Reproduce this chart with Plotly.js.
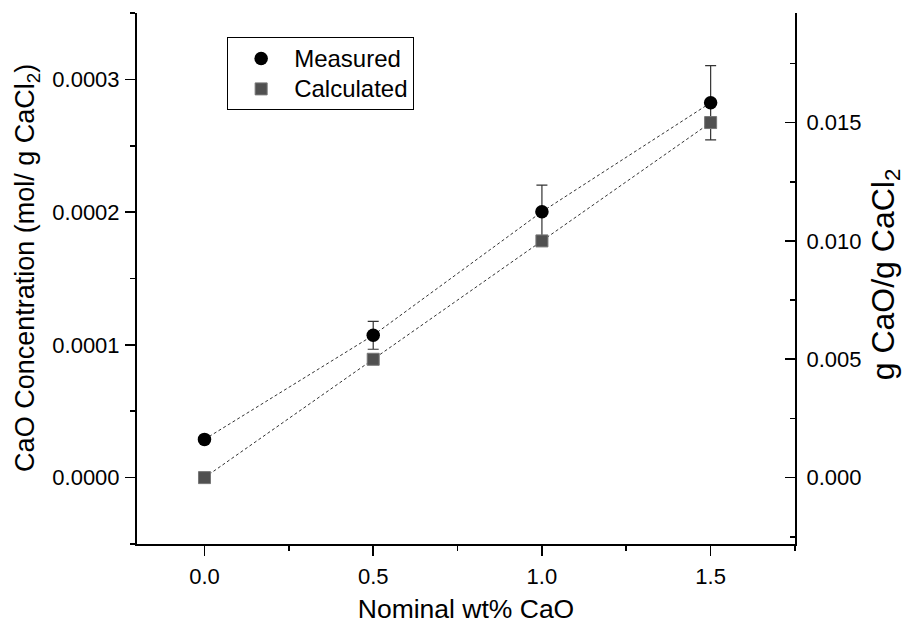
<!DOCTYPE html>
<html>
<head>
<meta charset="utf-8">
<script src="https://cdn.plot.ly/plotly-3.0.1.min.js"></script>
<style>html,body{margin:0;padding:0;background:#fff;}#chart{width:918px;height:624px;}</style>
</head>
<body>
<div id="chart"></div>
<script>
// Data
var nominal = [0.0, 0.5, 1.0, 1.5];                       // Nominal wt% CaO
var measured = [0.0000288, 0.0001072, 0.0002003, 0.0002824]; // mol CaO / g CaCl2
var measuredErr = [0.0, 0.0000105, 0.00002, 0.000028];
var calculated = [0.0, 0.005, 0.010, 0.015];               // g CaO / g CaCl2
var seriesNames = ['Measured', 'Calculated'];
var xTickVals = [0, 0.5, 1.0, 1.5];
var xTitle = 'Nominal wt% CaO';
var yTitle = 'CaO Concentration (mol/ g CaCl<sub>2</sub>)';
var y2Title = 'g CaO/g CaCl<sub>2</sub>';
var molarMassCaO = 56.08;
var leftRange = [-0.00005, 0.00035];

var FONT = 'Liberation Sans, Arial, sans-serif';

var traces = [
  { x: nominal, y: measured, type: 'scatter', mode: 'lines', yaxis: 'y',
    line: {color: '#333333', width: 1, dash: '3px,2.5px'}, showlegend: false, hoverinfo: 'skip' },
  { x: nominal, y: calculated, type: 'scatter', mode: 'lines', yaxis: 'y2',
    line: {color: '#333333', width: 1, dash: '3px,2.5px'}, showlegend: false, hoverinfo: 'skip' },
  { x: nominal, y: measured, type: 'scatter', mode: 'markers', yaxis: 'y',
    name: '<span style="font-size:24px">' + seriesNames[0] + '</span>',
    marker: {symbol: 'circle', size: 13.5, color: '#000000'},
    error_y: {type: 'data', array: measuredErr, visible: true, color: '#333333', thickness: 1.2, width: 5.5} },
  { x: nominal, y: calculated, type: 'scatter', mode: 'markers', yaxis: 'y2',
    name: '<span style="font-size:24px">' + seriesNames[1] + '</span>',
    marker: {symbol: 'square', size: 12, color: '#505050', line: {color: '#777777', width: 1}} }
];

var layout = {
  width: 918, height: 624,
  margin: {l: 137, r: 123, t: 13, b: 80, pad: 0},
  paper_bgcolor: '#ffffff', plot_bgcolor: '#ffffff',
  font: {family: FONT, size: 22, color: '#000'},
  showlegend: true,
  legend: {
    x: 0.137, y: 0.954, xanchor: 'left', yanchor: 'top',
    bgcolor: '#ffffff', bordercolor: '#000', borderwidth: 1,
    font: {family: FONT, size: 21, color: '#000'},
    tracegroupgap: 0, itemwidth: 56
  },
  xaxis: {
    range: [-0.2, 1.75], tickvals: xTickVals, tickformat: '.1f',
    showline: true, linecolor: '#000', linewidth: 2, mirror: false,
    ticks: 'outside', ticklen: 10, tickwidth: 1.6, tickcolor: '#000',
    minor: {dtick: 0.25, tick0: 0, ticks: 'outside', ticklen: 5, tickwidth: 1.6, tickcolor: '#000', showgrid: false},
    showgrid: false, zeroline: false, ticklabelstandoff: 2,
    tickfont: {family: FONT, size: 22, color: '#000'},
    title: {text: xTitle, font: {family: FONT, size: 26.5, color: '#000'}, standoff: 25}
  },
  yaxis: {
    range: leftRange, dtick: 0.0001, tick0: 0, tickformat: '.4f',
    showline: true, linecolor: '#000', linewidth: 2,
    ticks: 'outside', ticklen: 10, tickwidth: 1.6, tickcolor: '#000',
    minor: {dtick: 0.00005, tick0: 0, ticks: 'outside', ticklen: 5, tickwidth: 1.6, tickcolor: '#000', showgrid: false},
    showgrid: false, zeroline: false, ticklabelstandoff: 1,
    tickfont: {family: FONT, size: 22, color: '#000'}
  },
  yaxis2: {
    overlaying: 'y', side: 'right', anchor: 'x',
    range: [leftRange[0] * molarMassCaO, leftRange[1] * molarMassCaO], dtick: 0.005, tick0: 0, tickformat: '.3f',
    showline: true, linecolor: '#000', linewidth: 2,
    ticks: 'inside', ticklen: 10, tickwidth: 1.6, tickcolor: '#000',
    minor: {dtick: 0.0025, tick0: 0, ticks: 'inside', ticklen: 5, tickwidth: 1.6, tickcolor: '#000', showgrid: false},
    showgrid: false, zeroline: false, ticklabelstandoff: 5,
    tickfont: {family: FONT, size: 22, color: '#000'}
  },
  annotations: [
    { text: yTitle, xref: 'paper', yref: 'paper', x: 0, y: 0.52, xanchor: 'center', yanchor: 'middle',
      xshift: -110, textangle: -90, showarrow: false, font: {family: FONT, size: 27, color: '#000'} },
    { text: y2Title, xref: 'paper', yref: 'paper', x: 1, y: 0.508, xanchor: 'center', yanchor: 'middle',
      xshift: 90, textangle: -90, showarrow: false, font: {family: FONT, size: 32, color: '#000'} }
  ]
};

Plotly.newPlot('chart', traces, layout, {staticPlot: true, displayModeBar: false});
</script>
</body>
</html>
